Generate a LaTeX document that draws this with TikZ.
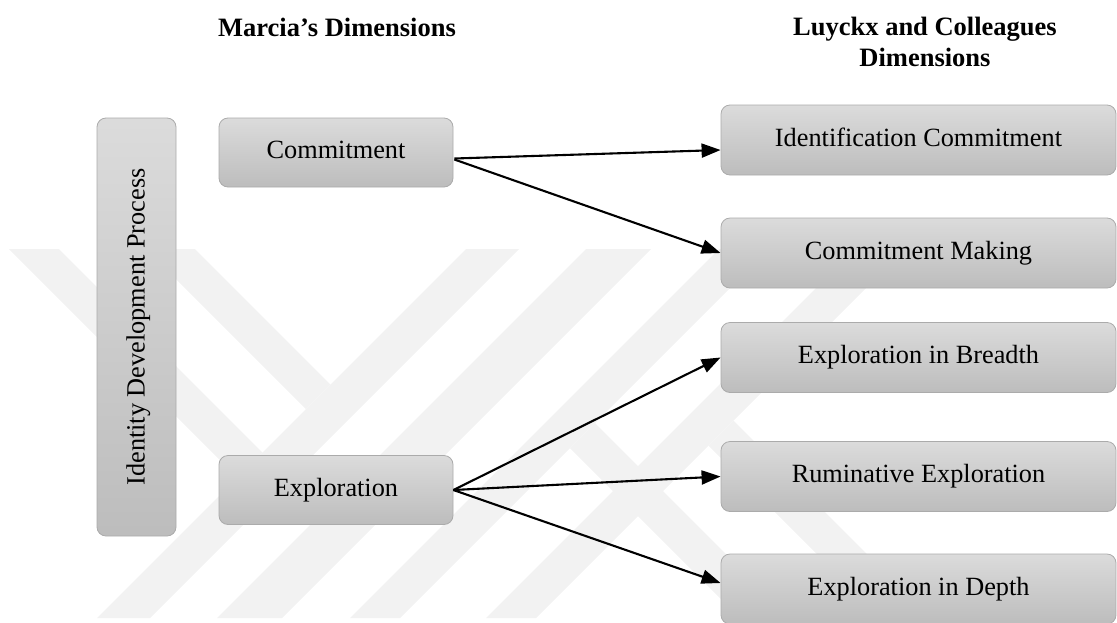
\documentclass[tikz,border=0pt]{standalone}
\usepackage{fontspec}
\setmainfont{Liberation Serif}
\usetikzlibrary{arrows.meta,calc}
\begin{document}
\begin{tikzpicture}[x=1pt,y=-1pt,
  box/.style={rounded corners=9pt, draw=black!33, line width=0.8pt,
    top color=black!14, bottom color=black!26,
    font=\fontsize{26.3}{31}\selectfont, text height=18pt, text depth=6pt, inner sep=0pt},
  rbox/.style={box, minimum width=395pt, minimum height=70pt},
  lbox/.style={box, minimum width=234pt, minimum height=69pt},
  arr/.style={line width=2.1pt, -{Triangle[length=19pt,width=14pt]}},
  hdr/.style={font=\fontsize{26.5}{31}\selectfont\bfseries, align=center},
  wm/.style={fill=black!5, draw=none}]
\useasboundingbox (0,0) rectangle (1117,622);
% faint watermark
\fill[wm] (9,249) -- (59,249) -- (262.5,452.5) -- (237.5,477.5) -- cycle;
\fill[wm] (146,249) -- (195,249) -- (330.5,384.5) -- (306,409) -- cycle;
\fill[wm] (97,618) -- (150,618) -- (519,249) -- (466,249) -- cycle;
\fill[wm] (217,618) -- (282,618) -- (651,249) -- (586,249) -- cycle;
\fill[wm] (350,618) -- (400,618) -- (769,249) -- (719,249) -- cycle;
\fill[wm] (486,618) -- (536,618) -- (905,249) -- (855,249) -- cycle;
\fill[wm] (733.5,420.5) -- (931,618) -- (881,618) -- (708.5,445.5) -- cycle;
\fill[wm] (595,423) -- (790,618) -- (740,618) -- (570,448) -- cycle;
% headers
\node[hdr] (h1) at (337,27) {Marcia’s Dimensions};
\node[hdr] (h2) at (925,42) {Luyckx and Colleagues\\Dimensions};
% left column
\node[box, minimum width=79pt, minimum height=418pt] (idp) at (136.5,327) {};
\node[rotate=90, font=\fontsize{26.3}{31}\selectfont, text height=18pt, text depth=6pt, inner sep=0pt] (idpt) at ($(idp.center)+(2,0)$) {Identity Development Process};
\node[lbox] (com) at (336,152.5) {Commitment};
\node[lbox] (exp) at (336,490) {Exploration};
% right column
\node[rbox] (ic) at (918.5,140) {Identification Commitment};
\node[rbox] (cm) at (918.5,253) {Commitment Making};
\node[rbox] (eb) at (918.5,357.5) {Exploration in Breadth};
\node[rbox] (re) at (918.5,476.5) {Ruminative Exploration};
\node[rbox] (ed) at (918.5,589) {Exploration in Depth};
% connectors
\draw[arr] ($(com.east)+(1,6)$) -- ($(ic.west)+(0,10)$);
\draw[arr] ($(com.east)+(1,7)$) -- (cm.west);
\draw[arr] (exp.east) -- (eb.west);
\draw[arr] (exp.east) -- (re.west);
\draw[arr] (exp.east) -- ($(ed.west)+(0,-6)$);
\end{tikzpicture}
\end{document}
